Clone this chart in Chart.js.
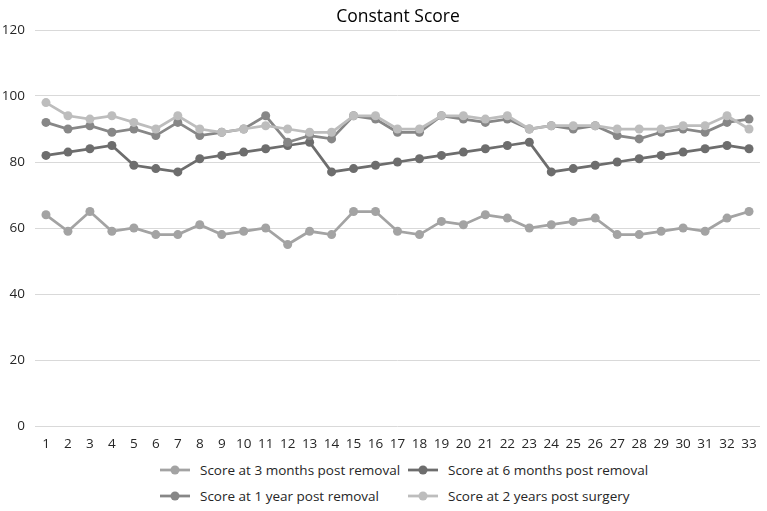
<!DOCTYPE html>
<html>
<head>
<meta charset="utf-8">
<script src="https://cdn.jsdelivr.net/npm/chart.js@4"></script>
<style>
  html, body { margin: 0; padding: 0; background: #fff; }
  body { width: 767px; height: 511px; position: relative; overflow: hidden; font-family: 'Open Sans', sans-serif; }
  #wrap { position: absolute; left: 0; top: 0; width: 767px; height: 455px; }
  #title { position: absolute; left: 33px; width: 730px; top: 3px; text-align: center; font-size: 17.5px; line-height: 24px; color: #000; }
  .legend-item { position: absolute; display: flex; align-items: center; font-size: 13.5px; color: #262626; white-space: nowrap; }
  .legend-item svg { margin-right: 10px; }
</style>
</head>
<body>
<div id="wrap"><canvas id="scoreChart"></canvas></div>
<div id="title">Constant Score</div>
<div id="legend"></div>
<script>
// patient numbers along the x axis
const patients = Array.from({ length: 33 }, (_, i) => String(i + 1));

// Constant score readings
const threeMonths = [64, 59, 65, 59, 60, 58, 58, 61, 58, 59, 60, 55, 59, 58, 65, 65, 59, 58, 62, 61, 64, 63, 60, 61, 62, 63, 58, 58, 59, 60, 59, 63, 65];
const sixMonths   = [82, 83, 84, 85, 79, 78, 77, 81, 82, 83, 84, 85, 86, 77, 78, 79, 80, 81, 82, 83, 84, 85, 86, 77, 78, 79, 80, 81, 82, 83, 84, 85, 84];
const oneYear     = [92, 90, 91, 89, 90, 88, 92, 88, 89, 90, 94, 86, 88, 87, 94, 93, 89, 89, 94, 93, 92, 93, 90, 91, 90, 91, 88, 87, 89, 90, 89, 92, 93];
const twoYears    = [98, 94, 93, 94, 92, 90, 94, 90, 89, 90, 91, 90, 89, 89, 94, 94, 90, 90, 94, 94, 93, 94, 90, 91, 91, 91, 90, 90, 90, 91, 91, 94, 90];

const seriesNames = ['Score at 3 months post removal', 'Score at 6 months post removal', 'Score at 1 year post removal', 'Score at 2 years post surgery'];
const seriesColors = ['#a3a3a3', '#6d6d6d', '#878787', '#bdbdbd'];
const seriesValues = [threeMonths, sixMonths, oneYear, twoYears];

document.addEventListener('DOMContentLoaded', () => {
  const ctx = document.getElementById('scoreChart').getContext('2d');

  const datasets = seriesValues.map((vals, i) => ({
    label: seriesNames[i],
    data: vals,
    borderColor: seriesColors[i],
    backgroundColor: seriesColors[i],
    borderWidth: 2.75,
    pointRadius: 4.5,
    pointHoverRadius: 4.5,
    pointBorderWidth: 0,
    tension: 0,
    order: 4 - i   // later series sit on top, like the original
  }));

  new Chart(ctx, {
    type: 'line',
    data: { labels: patients, datasets },
    options: {
      responsive: true,
      maintainAspectRatio: false,
      animation: false,
      layout: { padding: { left: 0, right: 7, top: 30, bottom: 0 } },
      plugins: {
        legend: { display: false },
        tooltip: { enabled: false }
      },
      scales: {
        x: {
          offset: true,
          grid: { display: false },
          border: { display: false },
          ticks: {
            color: '#262626',
            font: { family: 'Open Sans', size: 13.5 },
            padding: 2,
            maxRotation: 0,
            autoSkip: false
          },
          afterFit: s => { s.height = 29; }
        },
        y: {
          min: 0,
          max: 120,
          grid: { color: '#d9d9d9', lineWidth: 1, drawTicks: false },
          border: { display: false },
          ticks: {
            stepSize: 20,
            color: '#262626',
            font: { family: 'Open Sans', size: 13.5 },
            padding: 10
          },
          afterFit: s => { s.width = 35; }
        }
      }
    }
  });

  // HTML legend laid out as a 2x2 grid, matching the original
  const legend = document.getElementById('legend');
  const spots = [[160, 470], [408, 470], [160, 496], [408, 496]];
  seriesNames.forEach((name, i) => {
    const item = document.createElement('div');
    item.className = 'legend-item';
    item.style.left = spots[i][0] + 'px';
    item.style.top = (spots[i][1] - 11) + 'px';
    item.style.height = '22px';
    item.innerHTML =
      '<svg width="30" height="12"><line x1="0" y1="6" x2="30" y2="6" stroke="' + seriesColors[i] +
      '" stroke-width="2.75"/><circle cx="15" cy="6" r="4.5" fill="' + seriesColors[i] + '"/></svg>' +
      '<span>' + name + '</span>';
    legend.appendChild(item);
  });
});
</script>
</body>
</html>
